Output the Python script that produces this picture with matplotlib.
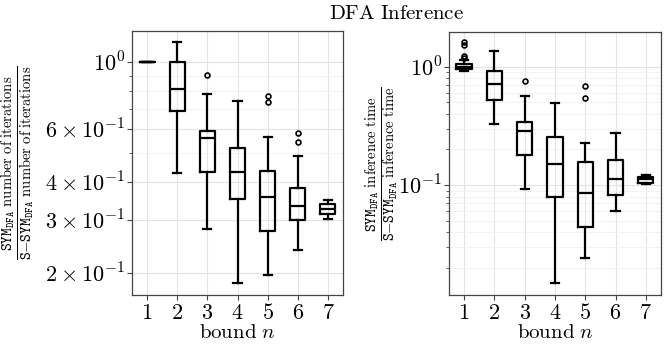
import matplotlib
matplotlib.use('Agg')
import matplotlib.pyplot as plt
import numpy as np
from matplotlib.ticker import FixedLocator, NullFormatter

plt.rcParams['mathtext.fontset'] = 'cm'
plt.rcParams['font.family'] = 'DejaVu Serif'

bounds = [1, 2, 3, 4, 5, 6, 7]

# left panel: number of iterations ratio
it_whislo = [1.0, 0.429, 0.280, 0.185, 0.196, 0.238, 0.302]
it_q1 = [1.0, 0.689, 0.433, 0.351, 0.2745, 0.299, 0.314]
it_med = [1.0, 0.817, 0.562, 0.433, 0.356, 0.334, 0.326]
it_q3 = [1.0, 1.0, 0.591, 0.518, 0.436, 0.383, 0.337]
it_whishi = [1.0, 1.165, 0.785, 0.744, 0.565, 0.489, 0.3486]
it_fliers = [[], [], [0.91], [], [0.773, 0.736], [0.581, 0.542], []]

# right panel: inference time ratio
tm_whislo = [0.915, 0.326, 0.0925, 0.0149, 0.024, 0.0607, 0.102]
tm_q1 = [0.96, 0.526, 0.179, 0.0796, 0.0439, 0.0823, 0.1047]
tm_med = [1.0, 0.718, 0.284, 0.151, 0.0861, 0.112, 0.1117]
tm_q3 = [1.045, 0.925, 0.343, 0.255, 0.157, 0.1636, 0.1175]
tm_whishi = [1.14, 1.35, 0.565, 0.49, 0.225, 0.275, 0.1215]
tm_fliers = [[1.6, 1.52, 1.24, 1.18], [], [0.757], [], [0.687, 0.547], [], []]

it_ticks = [0.2, 0.3, 0.4, 0.6, 1.0]
it_labels = [r'$2\times10^{-1}$', r'$3\times10^{-1}$', r'$4\times10^{-1}$',
             r'$6\times10^{-1}$', r'$10^{0}$']
tm_ticks = [0.1, 1.0]
tm_labels = [r'$10^{-1}$', r'$10^{0}$']

fig = plt.figure(figsize=(6.65, 3.46), dpi=100)
ax1 = fig.add_axes([0.1985, 0.1474, 0.3173, 0.763])
ax2 = fig.add_axes([0.675, 0.1474, 0.319, 0.760])


def draw(ax, lo, q1, med, q3, hi, fl, ticks, labels, ylim, ylabel, labx):
    stats = []
    for i in range(len(bounds)):
        stats.append(dict(whislo=lo[i], q1=q1[i], med=med[i], q3=q3[i],
                          whishi=hi[i], fliers=fl[i]))
    lw = 1.6
    ax.bxp(stats, positions=bounds, widths=0.5, capwidths=0.27,
           boxprops=dict(color='black', linewidth=lw),
           medianprops=dict(color='black', linewidth=lw),
           whiskerprops=dict(color='black', linewidth=lw),
           capprops=dict(color='black', linewidth=lw),
           flierprops=dict(marker='o', markersize=3.5, markerfacecolor='none',
                           markeredgecolor='black', markeredgewidth=1.2))
    ax.set_yscale('log')
    ax.set_ylim(*ylim)
    ax.set_xlim(0.5, 7.5)
    ax.set_xticks(bounds)
    ax.set_xticklabels([r'$%d$' % b for b in bounds], fontsize=16)
    ax.yaxis.set_major_locator(FixedLocator(ticks))
    ax.set_yticklabels(labels, fontsize=16)
    minors = [m * 10.0 ** k for k in (-2, -1, 0) for m in range(2, 10)]
    minors = [m for m in minors if ylim[0] < m < ylim[1] and
              all(abs(m - t) > 1e-9 for t in ticks)]
    ax.yaxis.set_minor_locator(FixedLocator(minors))
    ax.yaxis.set_minor_formatter(NullFormatter())
    ax.grid(True, which='major', color='#e3e3e3', linewidth=0.8)
    ax.grid(True, which='minor', axis='y', color='#f1f1f1', linewidth=0.6)
    ax.set_axisbelow(True)
    for s in ax.spines.values():
        s.set_color('#444444')
        s.set_linewidth(0.9)
    ax.tick_params(which='major', length=3.5, color='#444444', pad=1.5)
    ax.tick_params(which='minor', length=2, color='#444444')
    ax.set_xlabel(r'$\mathrm{bound}\ n$', fontsize=15, labelpad=-1)
    ax.set_ylabel(ylabel, fontsize=15, va='center')
    ax.yaxis.set_label_coords(labx, 0.5)


draw(ax1, it_whislo, it_q1, it_med, it_q3, it_whishi, it_fliers,
     it_ticks, it_labels, (0.1686, 1.27),
     r'$\frac{\mathtt{SYM}_{\mathtt{DFA}}\ \mathrm{number\ of\ iterations}}'
     r'{\mathtt{S{-}SYM}_{\mathtt{DFA}}\ \mathrm{number\ of\ iterations}}$',
     -0.54)
draw(ax2, tm_whislo, tm_q1, tm_med, tm_q3, tm_whishi, tm_fliers,
     tm_ticks, tm_labels, (0.0118, 1.96),
     r'$\frac{\mathtt{SYM}_{\mathtt{DFA}}\ \mathrm{inference\ time}}'
     r'{\mathtt{S{-}SYM}_{\mathtt{DFA}}\ \mathrm{inference\ time}}$',
     -0.316)

fig.text(0.596, 0.962, r'$\mathrm{DFA\ Inference}$', fontsize=15,
         ha='center', va='center')

fig.savefig('out.png', dpi=100)
